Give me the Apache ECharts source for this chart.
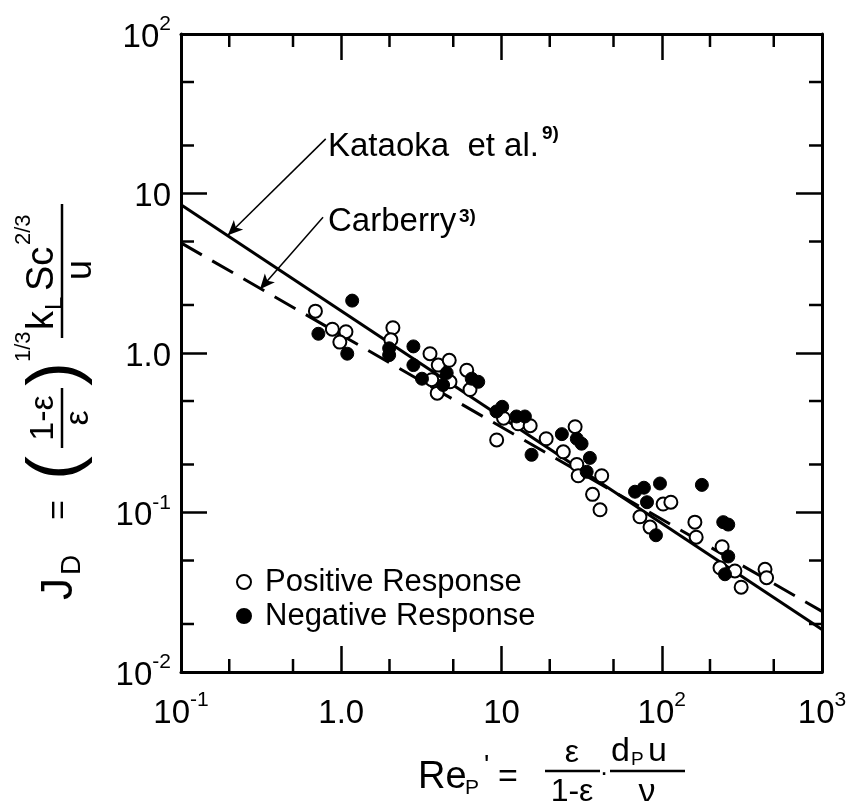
<!DOCTYPE html>
<html>
<head>
<meta charset="utf-8">
<script src="https://cdn.jsdelivr.net/npm/echarts@6/dist/echarts.min.js"></script>
<style>
  html, body { margin: 0; padding: 0; background: #fff; }
  #chart { width: 855px; height: 801px; }
</style>
</head>
<body>
<div id="chart"></div>
<script>
// values: [Re_p', J_D]
const positiveResponse = [
  [0.69, 1.83], [0.88, 1.41], [1.07, 1.36], [0.98, 1.17], [2.10, 1.44], [2.04, 1.21],
  [3.58, 0.99], [3.67, 0.68], [3.97, 0.56], [4.03, 0.84], [4.72, 0.90], [4.77, 0.66],
  [6.07, 0.78], [6.36, 0.59], [9.33, 0.285], [10.3, 0.39], [12.7, 0.36], [15.1, 0.35],
  [19.0, 0.29], [24.3, 0.24], [28.8, 0.345], [29.5, 0.20], [30.1, 0.17], [37.0, 0.13],
  [41.2, 0.104], [42.2, 0.17], [73.1, 0.094], [84.5, 0.081], [102, 0.113], [114, 0.116],
  [161, 0.087], [164, 0.070], [231, 0.045], [238, 0.061], [286, 0.043], [313, 0.034],
  [441, 0.044], [451, 0.039]
];
const negativeResponse = [
  [0.72, 1.32], [1.09, 0.99], [1.17, 2.13], [1.99, 1.07], [1.99, 0.97], [2.82, 1.10],
  [2.82, 0.84], [3.19, 0.69], [4.32, 0.63], [4.55, 0.75], [6.52, 0.69], [7.16, 0.66],
  [9.3, 0.43], [10.1, 0.46], [12.4, 0.40], [14.0, 0.40], [15.4, 0.23], [23.8, 0.31],
  [29.5, 0.29], [31.6, 0.27], [34.0, 0.18], [35.6, 0.22], [68.1, 0.135], [77.4, 0.143],
  [80.9, 0.116], [92.0, 0.072], [97.5, 0.152], [178, 0.149], [242, 0.087], [260, 0.084],
  [260, 0.053], [248, 0.041]
];
// correlation lines (end points)
const kataokaLine = [[0.1, 8.5], [1000, 0.0185]];
const carberryLine = [[0.1, 4.9], [1000, 0.024]];
// arrows: [tail, head]
const kataokaArrow = [[0.80, 22], [0.196, 5.47]];
const carberryArrow = [[0.77, 7.1], [0.311, 2.51]];

const xTickValues = [0.1, 1, 10, 100, 1000];
const xTickLabels = ['10^-1', '1.0', '10', '10^2', '10^3'];
const yTickValues = [0.01, 0.1, 1, 10, 100];
const yTickLabels = ['10^-2', '10^-1', '1.0', '10', '10^2'];
const xMinorTicks = [0.2, 0.5, 2, 5, 20, 50, 200, 500];
const yMinorTicks = [0.02, 0.05, 0.2, 0.5, 2, 5, 20, 50];

const FONT = '"Liberation Sans", Arial, sans-serif';
const xMin = 0.1, xMax = 1000, yMin = 0.01, yMax = 100;

function tickLabel(values, labels) {
  return function (v) {
    let i = values.findIndex(t => Math.abs(Math.log10(t) - Math.log10(v)) < 1e-6);
    if (i < 0) return '';
    let p = labels[i].split('^');
    return p.length > 1 ? '{b|' + p[0] + '}{s|' + p[1] + '}' : '{b|' + p[0] + '}';
  };
}
const labelRich = {
  b: { fontSize: 33, fontFamily: FONT, color: '#000', lineHeight: 40, verticalAlign: 'bottom' },
  s: { fontSize: 21, fontFamily: FONT, color: '#000', lineHeight: 40, verticalAlign: 'top' }
};

function frameAxis(pos, show) {
  let horiz = pos === 'bottom' || pos === 'top';
  return {
    type: 'log', logBase: 10, position: pos,
    min: horiz ? xMin : yMin,
    max: horiz ? xMax : yMax,
    axisLine: { show: true, lineStyle: { color: '#000', width: 3 } },
    axisTick: { show: true, inside: true, length: 26, lineStyle: { color: '#000', width: 2.5 } },
    splitLine: { show: false },
    axisLabel: show ? {
      show: true, margin: horiz ? 18 : 10,
      formatter: horiz ? tickLabel(xTickValues, xTickLabels) : tickLabel(yTickValues, yTickLabels),
      rich: labelRich
    } : { show: false }
  };
}

function minorTicks(values, isX) {
  return {
    type: 'custom', xAxisIndex: 0, yAxisIndex: 0, silent: true, clip: false, z: 5,
    data: values.map(v => isX ? [v, yMin] : [xMin, v]),
    renderItem: function (params, api) {
      let v = api.value(isX ? 0 : 1);
      let a = api.coord(isX ? [v, yMin] : [xMin, v]);
      let b = api.coord(isX ? [v, yMax] : [xMax, v]);
      let st = { stroke: '#000', lineWidth: 2.5 };
      let L = 13;
      return {
        type: 'group',
        children: isX ? [
          { type: 'line', shape: { x1: a[0], y1: a[1], x2: a[0], y2: a[1] - L }, style: st },
          { type: 'line', shape: { x1: b[0], y1: b[1], x2: b[0], y2: b[1] + L }, style: st }
        ] : [
          { type: 'line', shape: { x1: a[0], y1: a[1], x2: a[0] + L, y2: a[1] }, style: st },
          { type: 'line', shape: { x1: b[0], y1: b[1], x2: b[0] - L, y2: b[1] }, style: st }
        ]
      };
    }
  };
}

function txt(x, y, s, size, align, bold) {
  return {
    type: 'text', x: x, y: y, silent: true,
    style: {
      text: s, fontSize: size, fontFamily: FONT, fill: '#000', fontWeight: bold ? 'bold' : 'normal',
      textAlign: align || 'left', textVerticalAlign: 'middle',
      align: align || 'left', verticalAlign: 'middle'
    }
  };
}
function bar(x1, y1, x2, y2, w) {
  return { type: 'line', silent: true, shape: { x1: x1, y1: y1, x2: x2, y2: y2 }, style: { stroke: '#000', lineWidth: w || 2 } };
}

// y title, laid out horizontally then turned to read bottom -> top
const yTitle = {
  type: 'group', x: 60, y: 600, rotation: Math.PI / 2,
  children: [
    txt(0, 0, 'J', 44),
    txt(25, 12, 'D', 28),
    txt(80, 0, '=', 34),
    txt(120, -3, '(', 72),
    txt(182, -16, '1-ε', 34, 'center'),
    bar(152, 2, 212, 2, 2.5),
    txt(182, 19, 'ε', 34, 'center'),
    txt(214, -3, ')', 72),
    txt(238, -36, '1/3', 22),
    txt(270, -17, 'k', 38),
    txt(290, -5, 'L', 24),
    txt(309, -17, 'Sc', 38),
    txt(355, -36, '2/3', 22),
    bar(262, 2, 396, 2, 2.5),
    txt(330, 21, 'u', 36, 'center')
  ]
};

// x title
const xTitle = {
  type: 'group',
  children: [
    txt(418, 778, 'Re', 38),
    txt(465, 788, 'P', 21),
    txt(484, 766, '\'', 28),
    txt(498, 778, '=', 34),
    txt(572, 753, 'ε', 32, 'center'),
    bar(545, 771, 600, 771, 2.5),
    txt(572, 792, '1-ε', 32, 'center'),
    txt(604, 774, '·', 26, 'center'),
    txt(611, 752, 'd', 34),
    txt(631, 760, 'P', 19),
    txt(648, 752, 'u', 34),
    bar(610, 771, 685, 771, 2.5),
    txt(647, 793, 'ν', 34, 'center')
  ]
};

const chart = echarts.init(document.getElementById('chart'), null, { renderer: 'canvas' });
chart.setOption({
  animation: false,
  backgroundColor: '#fff',
  grid: { left: 181, top: 34, right: 33, bottom: 129, containLabel: false, outerBoundsMode: 'none' },
  xAxis: [frameAxis('bottom', true), frameAxis('top', false)],
  yAxis: [frameAxis('left', true), frameAxis('right', false)],
  legend: {
    orient: 'vertical', left: 231, top: 561, itemGap: 2,
    itemWidth: 14, itemHeight: 14,
    data: ['Positive Response', 'Negative Response'],
    textStyle: { fontSize: 31, fontFamily: FONT, color: '#000', lineHeight: 32, padding: [0, 0, 0, 9] }
  },
  graphic: [
    yTitle, xTitle,
    txt(328, 147, 'Kataoka  et al.', 33),
    txt(542, 134, '9)', 19, 'left', true),
    txt(328, 222, 'Carberry', 33),
    txt(459, 217, '3)', 19, 'left', true)
  ],
  series: [
    {
      name: 'Kataoka et al.', type: 'line', data: kataokaLine, showSymbol: false, silent: true,
      lineStyle: { color: '#000', width: 3 }, z: 3,
      markLine: {
        silent: true, symbol: ['none', 'arrow'], symbolSize: [10, 15],
        lineStyle: { color: '#000', width: 1.5, type: 'solid' }, label: { show: false },
        data: [[{ coord: kataokaArrow[0] }, { coord: kataokaArrow[1] }]]
      }
    },
    {
      name: 'Carberry', type: 'line', data: carberryLine, showSymbol: false, silent: true,
      lineStyle: { color: '#000', width: 3, type: [24, 12] }, z: 3,
      markLine: {
        silent: true, symbol: ['none', 'arrow'], symbolSize: [10, 15],
        lineStyle: { color: '#000', width: 1.5, type: 'solid' }, label: { show: false },
        data: [[{ coord: carberryArrow[0] }, { coord: carberryArrow[1] }]]
      }
    },
    {
      name: 'Positive Response', type: 'scatter', data: positiveResponse, symbol: 'circle', symbolSize: 13,
      itemStyle: { color: '#fff', borderColor: '#000', borderWidth: 2, opacity: 1 }, z: 4
    },
    {
      name: 'Negative Response', type: 'scatter', data: negativeResponse, symbol: 'circle', symbolSize: 13,
      itemStyle: { color: '#000', borderColor: '#000', borderWidth: 1, opacity: 1 }, z: 4
    },
    minorTicks(xMinorTicks, true),
    minorTicks(yMinorTicks, false)
  ]
});
</script>
</body>
</html>
